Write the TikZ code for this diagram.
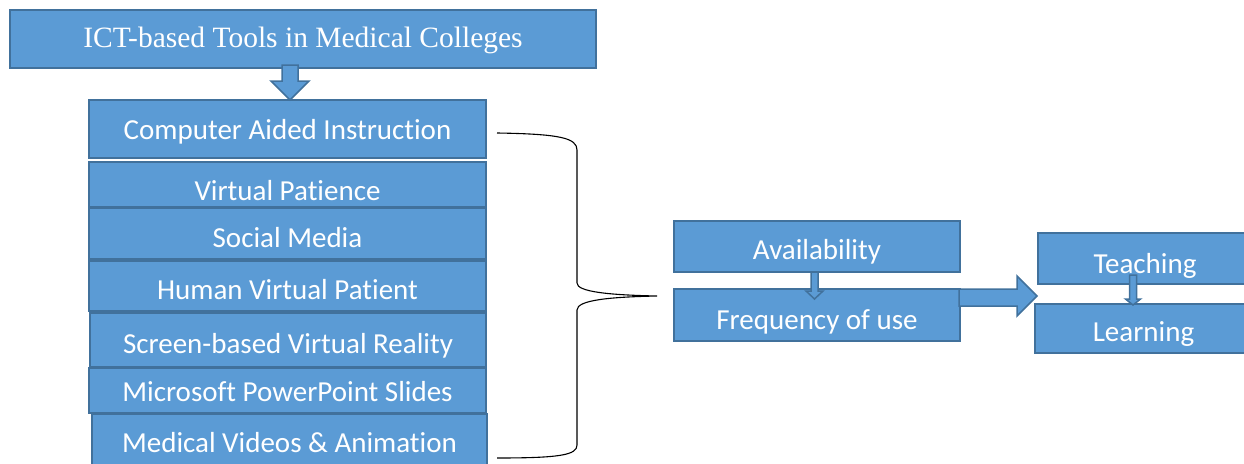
\documentclass[tikz,border=0pt]{standalone}
\usepackage{fontspec}
\setmainfont{Carlito}[Ligatures={NoCommon,NoContextual}, RawFeature={-calt}]
\newfontfamily\timesfont{Liberation Serif}
\usepackage{tikz}
\usetikzlibrary{calc}
\definecolor{boxfill}{HTML}{5B9BD5}
\definecolor{boxline}{HTML}{41719C}
\begin{document}
\begin{tikzpicture}[x=1pt, y=-1pt,
				   box/.style={rectangle, draw=boxline, fill=boxfill, line width=2pt, text=white, inner sep=0pt,
				               font=\fontsize{29}{34}\selectfont},
				   sink/.style={text depth=0pt, text height=#1},
				   blk/.style={draw=boxline, fill=boxfill, line width=1.5pt, line join=miter},
				   brace/.style={draw=black, line width=1.1pt}]
\useasboundingbox (0,0) rectangle (1244,463);

\node[box, minimum width=586, minimum height=58, sink=16pt, font=\timesfont\fontsize{29.5}{34}\selectfont] (ict) at (303,39) {ICT-based Tools in Medical Colleges};

\node[box, minimum width=397, minimum height=58, sink=20pt] (cai) at (287.5,129) {Computer Aided Instruction};
\node[box, minimum width=397, minimum height=45, sink=31pt] (vp) at (287.5,184.5) {Virtual Patience};
\node[box, minimum width=397, minimum height=51, sink=27pt] (sm) at (287.5,233.5) {Social Media};
\node[box, minimum width=397, minimum height=50, sink=26pt] (hvp) at (287.5,286) {Human Virtual Patient};
\node[box, minimum width=396, minimum height=54, sink=26pt] (sbvr) at (288,340) {Screen-based Virtual Reality};
\node[box, minimum width=397, minimum height=45, sink=21pt] (mps) at (287.5,390.5) {Microsoft PowerPoint Slides};
\node[box, minimum width=395, minimum height=56, sink=20pt] (mva) at (289.5,442) {Medical Videos \& Animation};

\node[box, minimum width=286, minimum height=51, sink=25pt] (avail) at (817,246.5) {Availability};
\node[box, minimum width=286, minimum height=52, sink=29pt] (freq) at (817,315) {Frequency of use};
\node[box, minimum width=214, minimum height=51, sink=29pt] (teach) at (1145,258.5) {Teaching};
\node[box, minimum width=217, minimum height=49, sink=25pt] (learn) at (1143.5,328.5) {Learning};

\coordinate (tip) at ($(freq.west)+(-16,-19)$);

\draw[blk] ($(ict.south)+(-21,-4)$) -- ++(16,0) -- ++(0,16) -- ++(11,0) -- ++(-19,19) -- ++(-19,-19) -- ++(11,0) -- cycle;
\draw[blk] ($(avail.south)+(-6,-1)$) -- ++(7,0) -- ++(0,19) -- ++(5,0) -- ++(-8.5,8) -- ++(-8.5,-8) -- ++(5,0) -- cycle;
\draw[blk] ($(teach.south)+(-15.5,-10)$) -- ++(7,0) -- ++(0,24) -- ++(4,0) -- ++(-7.5,6) -- ++(-7.5,-6) -- ++(4,0) -- cycle;
\draw[blk] ($(freq.east)+(-2,-26)$) -- ++(58,0) -- ++(0,-13) -- ++(20,20) -- ++(-20,20) -- ++(0,-10) -- ++(-58,0) -- cycle;

\draw[brace] ($(cai.east)+(10,4)$) .. controls (560,134) and (577,138) .. (577,150) -- (577,283)
	.. controls (577,292) and (610,295) .. (tip) .. controls (610,297) and (577,300) .. (577,310) -- (577,445)
	.. controls (577,455) and (560,458) .. ($(mva.east)+(9,16)$);
\end{tikzpicture}
\end{document}
